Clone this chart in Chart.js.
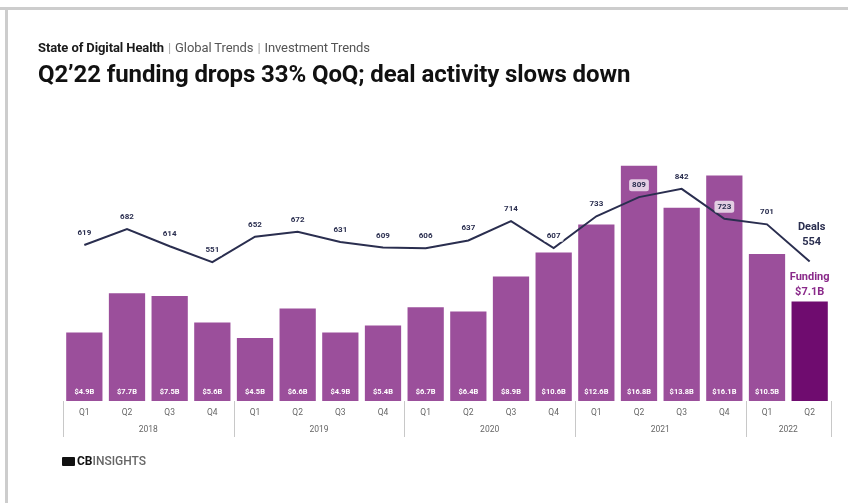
<!DOCTYPE html>
<html><head><meta charset="utf-8">
<script src="https://cdn.jsdelivr.net/npm/chart.js@4"></script>
<style>
html,body{margin:0;padding:0;background:#fff;}
#wrap{position:relative;width:848px;height:503px;overflow:hidden;font-family:Roboto,"Liberation Sans",sans-serif;}
#frameTop{position:absolute;left:0;top:7px;width:848px;height:3px;background:#cdcdcd;}
#frameLeft{position:absolute;left:5px;top:7px;width:3px;height:496px;background:#cdcdcd;}
#crumb{position:absolute;left:38px;top:40px;font-size:13px;color:#555;white-space:nowrap;letter-spacing:-0.1px;}
#crumb b{color:#1a1a1a;}
#crumb .sep{color:#aaa;padding:0 4px;}
#title{position:absolute;left:38px;top:60px;font-size:24px;font-weight:700;color:#111;white-space:nowrap;letter-spacing:-0.1px;}
#logo{position:absolute;left:62px;top:454px;font-size:12px;font-weight:700;white-space:nowrap;display:flex;align-items:center;}
#logo .ic{display:inline-block;width:13px;height:9px;background:#111;margin-right:2px;border-radius:1px;}
#logo .cb{color:#111;}
#logo .ins{color:#666;font-weight:500;}
canvas{position:absolute;left:0;top:0;}
</style>
</head><body>
<div id="wrap">
<canvas id="c" width="848" height="503"></canvas>
<div id="frameTop"></div><div id="frameLeft"></div>
<div id="crumb"><b>State of Digital Health</b><span class="sep">|</span>Global Trends<span class="sep">|</span>Investment Trends</div>
<div id="title">Q2’22 funding drops 33% QoQ; deal activity slows down</div>
<div id="logo"><span class="ic"></span><span class="cb">CB</span><span class="ins">INSIGHTS</span></div>
</div>
<script>
const quarters = ['Q1','Q2','Q3','Q4','Q1','Q2','Q3','Q4','Q1','Q2','Q3','Q4','Q1','Q2','Q3','Q4','Q1','Q2'];
const years = ['2018','2019','2020','2021','2022'];
const yearSpans = [4,4,4,4,2];
const funding = [4.9,7.7,7.5,5.6,4.5,6.6,4.9,5.4,6.7,6.4,8.9,10.6,12.6,16.8,13.8,16.1,10.5,7.1];
const deals = [619,682,614,551,652,672,631,609,606,637,714,607,733,809,842,723,701,554];

const PURPLE = '#9b4f9b';
const DARK = '#6f0c6f';
const NAVY = '#2a2e4f';

const labelsPlugin = {
  id: 'labelsPlugin',
  afterDatasetsDraw(chart) {
    const ctx = chart.ctx;
    const area = chart.chartArea;
    const barMeta = chart.getDatasetMeta(1);
    const lineMeta = chart.getDatasetMeta(0);
    ctx.save();
    ctx.textAlign = 'center';
    ctx.textBaseline = 'middle';
    ctx.font = '700 7.5px Roboto, sans-serif';
    ctx.fillStyle = '#ffffff';
    barMeta.data.forEach((b, i) => {
      if (i === funding.length - 1) return;
      ctx.fillText('$' + funding[i].toFixed(1) + 'B', b.x, area.bottom - 9);
    });
    ctx.font = '700 8px Roboto, sans-serif';
    lineMeta.data.forEach((p, i) => {
      if (i === deals.length - 1) return;
      const t = String(deals[i]);
      const w = ctx.measureText(t).width + 6;
      const y = p.y - 12;
      ctx.fillStyle = 'rgba(255,255,255,0.72)';
      ctx.beginPath();
      ctx.roundRect(p.x - w / 2, y - 6, w, 12, 2.5);
      ctx.fill();
      ctx.fillStyle = NAVY;
      ctx.fillText(t, p.x, y);
    });
    const lp = lineMeta.data[deals.length - 1];
    ctx.font = '700 11px Roboto, sans-serif';
    ctx.fillStyle = NAVY;
    ctx.fillText('Deals', lp.x + 2, lp.y - 34);
    ctx.fillText(String(deals[deals.length - 1]), lp.x + 2, lp.y - 19);
    const lb = barMeta.data[funding.length - 1];
    ctx.fillStyle = '#8a2a8a';
    ctx.fillText('Funding', lb.x, lb.y - 24);
    ctx.fillText('$' + funding[funding.length - 1].toFixed(1) + 'B', lb.x, lb.y - 9);
    ctx.restore();
  },
  afterDraw(chart) {
    const ctx = chart.ctx;
    const x = chart.scales.x;
    const area = chart.chartArea;
    const half = (x.getPixelForValue(1) - x.getPixelForValue(0)) / 2;
    ctx.save();
    ctx.strokeStyle = '#c8c8c8';
    ctx.lineWidth = 1;
    let idx = 0;
    const bounds = [0];
    yearSpans.forEach(s => { idx += s; bounds.push(idx); });
    bounds.forEach(bi => {
      const px = Math.round(x.getPixelForValue(bi) - half) + 0.5;
      ctx.beginPath();
      ctx.moveTo(px, area.bottom);
      ctx.lineTo(px, area.bottom + 36);
      ctx.stroke();
    });
    ctx.font = '8.5px Roboto, sans-serif';
    ctx.fillStyle = '#666';
    ctx.textAlign = 'center';
    ctx.textBaseline = 'middle';
    years.forEach((yr, k) => {
      const a = x.getPixelForValue(bounds[k]) - half;
      const b = x.getPixelForValue(bounds[k + 1]) - half;
      ctx.fillText(yr, (a + b) / 2, area.bottom + 29);
    });
    ctx.restore();
  }
};

new Chart(document.getElementById('c'), {
  data: {
    labels: quarters,
    datasets: [
      {
        type: 'line', label: 'Deals', data: deals, yAxisID: 'yD',
        borderColor: NAVY, borderWidth: 2, pointRadius: 0, tension: 0, order: 1
      },
      {
        type: 'bar', label: 'Funding', data: funding, yAxisID: 'yF',
        backgroundColor: funding.map((v, i) => i === funding.length - 1 ? DARK : PURPLE),
        barPercentage: 0.85, categoryPercentage: 1, order: 2
      }
    ]
  },
  options: {
    responsive: false,
    animation: false,
    layout: { padding: { left: 63, right: 17, top: 149, bottom: 66 } },
    plugins: { legend: { display: false }, tooltip: { enabled: false } },
    scales: {
      x: {
        grid: { display: false, drawTicks: false },
        border: { display: false },
        ticks: { color: '#666', font: { size: 8.5, family: 'Roboto' }, padding: 7, maxRotation: 0 },
        afterFit(a) { a.height = 36; }
      },
      yF: { display: false, min: 0, max: 18 },
      yD: { display: false, min: 0, max: 1000 }
    }
  },
  plugins: [labelsPlugin]
});
</script>
</body></html>
